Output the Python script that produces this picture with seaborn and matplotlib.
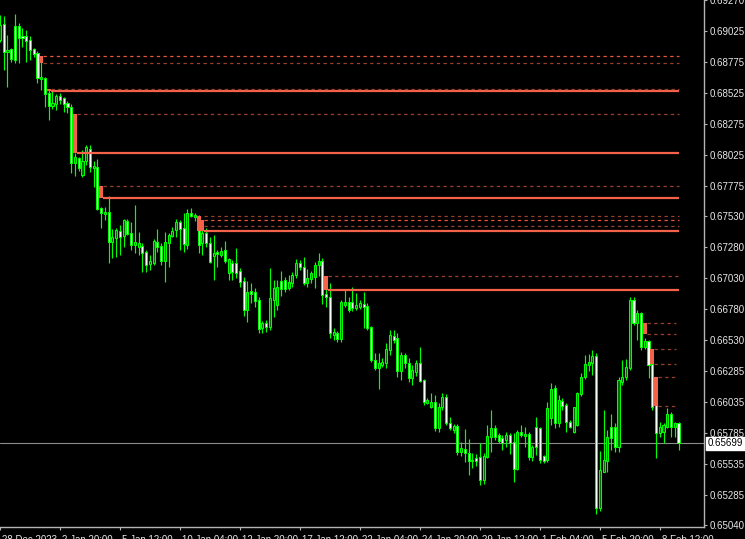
import numpy as np
import pandas as pd
import matplotlib
matplotlib.use("Agg")
import matplotlib.pyplot as plt
import matplotlib.transforms as mtransforms
from matplotlib.patches import Rectangle
import seaborn as sns

# ---------------- data ----------------
open_ = [0.68950, 0.69079, 0.68853, 0.68877, 0.69062, 0.69062, 0.68982, 0.68982, 0.68950, 0.68877,
         0.68845, 0.68635, 0.68643, 0.68522, 0.68418, 0.68434, 0.68498, 0.68482, 0.68442, 0.68410,
         0.67958, 0.67999, 0.67861, 0.67974, 0.68071, 0.67918, 0.67926, 0.67596, 0.67547, 0.67563,
         0.67321, 0.67354, 0.67410, 0.67370, 0.67491, 0.67394, 0.67297, 0.67281, 0.67289, 0.67241,
         0.67144, 0.67152, 0.67321, 0.67289, 0.67168, 0.67313, 0.67370, 0.67418, 0.67483, 0.67434,
         0.67297, 0.67555, 0.67523, 0.67523, 0.67313, 0.67394, 0.67313, 0.67209, 0.67241, 0.67217,
         0.67257, 0.67072, 0.67152, 0.67152, 0.67088, 0.67007, 0.66773, 0.66926, 0.66918, 0.66854,
         0.66628, 0.66669, 0.66636, 0.66854, 0.66814, 0.67007, 0.67015, 0.66951, 0.66991, 0.67055,
         0.67152, 0.67120, 0.66991, 0.67023, 0.67039, 0.67136, 0.67168, 0.66902, 0.66878, 0.66572,
         0.66588, 0.66540, 0.66814, 0.66838, 0.66838, 0.66789, 0.66798, 0.66822, 0.66806, 0.66636,
         0.66370, 0.66306, 0.66330, 0.66346, 0.66451, 0.66564, 0.66548, 0.66282, 0.66411, 0.66346,
         0.66225, 0.66274, 0.66346, 0.66209, 0.66024, 0.65992, 0.66032, 0.65822, 0.65992, 0.66072,
         0.65863, 0.65806, 0.65838, 0.65629, 0.65653, 0.65621, 0.65556, 0.65581, 0.65589, 0.65403,
         0.65589, 0.65750, 0.65822, 0.65766, 0.65742, 0.65726, 0.65766, 0.65709, 0.65492, 0.65790,
         0.65758, 0.65774, 0.65589, 0.65830, 0.65822, 0.65597, 0.65564, 0.65903, 0.66145, 0.65863,
         0.66040, 0.66008, 0.65871, 0.65790, 0.65846, 0.66096, 0.66233, 0.66330, 0.66346, 0.66403,
         0.65178, 0.65468, 0.65556, 0.65830, 0.65830, 0.65669, 0.66193, 0.66233, 0.66306, 0.66854,
         0.66669, 0.66749, 0.66475, 0.66524, 0.66338, 0.66008, 0.65782, 0.65790, 0.65830, 0.65935,
         0.65830, 0.65863]
high = [0.69151, 0.69143, 0.68990, 0.68885, 0.69159, 0.69087, 0.69046, 0.69030, 0.68982, 0.68885,
        0.68861, 0.68788, 0.68651, 0.68555, 0.68547, 0.68514, 0.68522, 0.68490, 0.68458, 0.68434,
        0.68039, 0.68007, 0.68063, 0.68103, 0.68103, 0.67974, 0.67990, 0.67604, 0.67604, 0.67692,
        0.67426, 0.67434, 0.67458, 0.67507, 0.67507, 0.67483, 0.67620, 0.67402, 0.67313, 0.67257,
        0.67217, 0.67346, 0.67426, 0.67313, 0.67402, 0.67394, 0.67442, 0.67507, 0.67499, 0.67555,
        0.67587, 0.67596, 0.67555, 0.67539, 0.67475, 0.67434, 0.67362, 0.67378, 0.67257, 0.67281,
        0.67330, 0.67192, 0.67176, 0.67273, 0.67112, 0.67039, 0.67007, 0.66991, 0.66951, 0.66878,
        0.66685, 0.66693, 0.67112, 0.67015, 0.67015, 0.67088, 0.67039, 0.67055, 0.67080, 0.67184,
        0.67176, 0.67200, 0.67104, 0.67088, 0.67160, 0.67233, 0.67192, 0.66991, 0.66991, 0.66628,
        0.66604, 0.66854, 0.66935, 0.66878, 0.66959, 0.66910, 0.66854, 0.66918, 0.66830, 0.66644,
        0.66427, 0.66427, 0.66386, 0.66507, 0.66612, 0.66612, 0.66588, 0.66435, 0.66427, 0.66386,
        0.66330, 0.66370, 0.66475, 0.66217, 0.66064, 0.66104, 0.66088, 0.66024, 0.66104, 0.66096,
        0.65911, 0.65854, 0.65854, 0.65709, 0.65814, 0.65734, 0.65621, 0.65613, 0.65701, 0.65621,
        0.65846, 0.65967, 0.65846, 0.65782, 0.65766, 0.65790, 0.65782, 0.65782, 0.65806, 0.65846,
        0.65830, 0.65790, 0.65685, 0.65911, 0.65830, 0.65605, 0.66032, 0.66185, 0.66169, 0.66088,
        0.66064, 0.66024, 0.65887, 0.65992, 0.66112, 0.66266, 0.66411, 0.66419, 0.66451, 0.66427,
        0.65637, 0.65967, 0.65806, 0.65935, 0.65863, 0.66233, 0.66370, 0.66378, 0.66878, 0.66878,
        0.66773, 0.66757, 0.66548, 0.66532, 0.66354, 0.66024, 0.65871, 0.65863, 0.65984, 0.65951,
        0.65871, 0.65871]
low = [0.68933, 0.68708, 0.68571, 0.68772, 0.68764, 0.68764, 0.68893, 0.68772, 0.68788, 0.68813,
       0.68603, 0.68547, 0.68410, 0.68305, 0.68393, 0.68385, 0.68434, 0.68369, 0.68361, 0.67878,
       0.67853, 0.67894, 0.67845, 0.67942, 0.67886, 0.67765, 0.67579, 0.67434, 0.67499, 0.67152,
       0.67192, 0.67200, 0.67217, 0.67281, 0.67378, 0.67257, 0.67233, 0.67217, 0.67080, 0.67080,
       0.67096, 0.67136, 0.67241, 0.67136, 0.66999, 0.67120, 0.67362, 0.67362, 0.67257, 0.67241,
       0.67265, 0.67523, 0.67491, 0.67233, 0.67217, 0.67281, 0.67152, 0.67015, 0.67120, 0.67200,
       0.67152, 0.67015, 0.67015, 0.67031, 0.66959, 0.66725, 0.66677, 0.66830, 0.66798, 0.66588,
       0.66588, 0.66596, 0.66612, 0.66717, 0.66773, 0.66886, 0.66918, 0.66935, 0.66959, 0.67031,
       0.67096, 0.66975, 0.66959, 0.66991, 0.66951, 0.67047, 0.66822, 0.66798, 0.66548, 0.66532,
       0.66515, 0.66515, 0.66798, 0.66757, 0.66765, 0.66773, 0.66781, 0.66628, 0.66612, 0.66354,
       0.66290, 0.66137, 0.66314, 0.66306, 0.66411, 0.66507, 0.66233, 0.66209, 0.66306, 0.66193,
       0.66169, 0.66241, 0.66193, 0.66008, 0.66016, 0.65984, 0.65798, 0.65790, 0.65967, 0.65846,
       0.65806, 0.65782, 0.65605, 0.65597, 0.65548, 0.65443, 0.65500, 0.65516, 0.65363, 0.65371,
       0.65581, 0.65629, 0.65726, 0.65701, 0.65645, 0.65669, 0.65613, 0.65387, 0.65484, 0.65750,
       0.65669, 0.65564, 0.65556, 0.65605, 0.65540, 0.65540, 0.65548, 0.65846, 0.65822, 0.65830,
       0.65967, 0.65790, 0.65822, 0.65782, 0.65838, 0.66080, 0.66217, 0.66282, 0.66249, 0.65129,
       0.65153, 0.65468, 0.65468, 0.65645, 0.65629, 0.65629, 0.66169, 0.66209, 0.66290, 0.66652,
       0.66532, 0.66451, 0.66459, 0.66225, 0.65967, 0.65581, 0.65750, 0.65701, 0.65822, 0.65750,
       0.65750, 0.65645]
close = [0.69070, 0.68853, 0.68869, 0.68796, 0.68788, 0.68966, 0.68966, 0.68942, 0.68869, 0.68837,
         0.68643, 0.68651, 0.68514, 0.68418, 0.68442, 0.68498, 0.68466, 0.68434, 0.68410, 0.67958,
         0.68007, 0.67918, 0.67974, 0.68087, 0.67926, 0.67934, 0.67587, 0.67555, 0.67563, 0.67321,
         0.67362, 0.67418, 0.67362, 0.67499, 0.67386, 0.67297, 0.67321, 0.67313, 0.67233, 0.67136,
         0.67168, 0.67330, 0.67281, 0.67168, 0.67321, 0.67378, 0.67410, 0.67483, 0.67426, 0.67305,
         0.67555, 0.67531, 0.67539, 0.67297, 0.67394, 0.67313, 0.67160, 0.67233, 0.67225, 0.67249,
         0.67168, 0.67184, 0.67080, 0.67072, 0.66999, 0.66773, 0.66918, 0.66902, 0.66846, 0.66620,
         0.66669, 0.66636, 0.66870, 0.66951, 0.66959, 0.66943, 0.66943, 0.66999, 0.67055, 0.67152,
         0.67120, 0.66991, 0.67031, 0.67072, 0.67136, 0.67168, 0.66894, 0.66878, 0.66588, 0.66596,
         0.66540, 0.66838, 0.66838, 0.66773, 0.66789, 0.66814, 0.66830, 0.66798, 0.66628, 0.66370,
         0.66306, 0.66346, 0.66354, 0.66459, 0.66572, 0.66532, 0.66282, 0.66411, 0.66346, 0.66225,
         0.66290, 0.66346, 0.66201, 0.66032, 0.66048, 0.66032, 0.65822, 0.65992, 0.66072, 0.65863,
         0.65822, 0.65838, 0.65629, 0.65661, 0.65621, 0.65556, 0.65564, 0.65556, 0.65403, 0.65597,
         0.65758, 0.65822, 0.65750, 0.65717, 0.65701, 0.65766, 0.65701, 0.65492, 0.65790, 0.65766,
         0.65774, 0.65589, 0.65669, 0.65669, 0.65564, 0.65556, 0.65984, 0.66137, 0.65863, 0.66048,
         0.66000, 0.65871, 0.65830, 0.65992, 0.66104, 0.66233, 0.66338, 0.66354, 0.66403, 0.65178,
         0.65484, 0.65564, 0.65750, 0.65742, 0.65669, 0.66209, 0.66233, 0.66314, 0.66854, 0.66669,
         0.66749, 0.66475, 0.66524, 0.66330, 0.65992, 0.65782, 0.65830, 0.65846, 0.65935, 0.65830,
         0.65863, 0.65699]

current_price = 0.65699

# supply zones: candle slot of the marker box, top and bottom price of the box
zone_slot = [11, 13, 20, 27, 53, 54, 87, 172, 174, 175]
zone_top = [0.68821, 0.68552, 0.68357, 0.67775, 0.67533, 0.67496, 0.67051, 0.66666, 0.66457, 0.66231]
zone_bottom = [0.68768, 0.68535, 0.68041, 0.67676, 0.67410, 0.67410, 0.66935, 0.66577, 0.66338, 0.66000]

# zone boundary lines: price, first candle
solid_level = [0.68535, 0.68041, 0.67676, 0.67410, 0.66935]
solid_from = [13, 20, 27, 54, 87]
dash_level = [0.68821, 0.68768, 0.68552, 0.68357, 0.67775, 0.67533, 0.67496, 0.67450, 0.67051,
              0.66666, 0.66577, 0.66457, 0.66338, 0.66231, 0.66000]
dash_from = [11, 11, 13, 20, 27, 54, 54, 54, 87, 172, 172, 174, 174, 175, 175]
dash_bright = [True, False, False, False, False, False, True, False, False,
               False, False, False, False, False, False]
last_bar = 181

ytick_vals = [0.69270, 0.69025, 0.68775, 0.68525, 0.68275, 0.68025, 0.67775, 0.67530, 0.67280,
              0.67030, 0.66780, 0.66530, 0.66285, 0.66035, 0.65785, 0.65535, 0.65285, 0.65040]
ytick_labels = ["0.69270", "0.69025", "0.68775", "0.68525", "0.68275", "0.68025", "0.67775",
                "0.67530", "0.67280", "0.67030", "0.66780", "0.66530", "0.66285", "0.66035",
                "0.65785", "0.65535", "0.65285", "0.65040"]
xtick_bars = [0, 16, 32, 48, 64, 80, 96, 112, 128, 144, 160, 176]
xtick_labels = ["28 Dec 2023", "2 Jan 20:00", "5 Jan 12:00", "10 Jan 04:00", "12 Jan 20:00",
                "17 Jan 12:00", "22 Jan 04:00", "24 Jan 20:00", "29 Jan 12:00", "1 Feb 04:00",
                "5 Feb 20:00", "8 Feb 12:00"]

# ---------------- style ----------------
sns.set_theme(style="dark", rc={"axes.facecolor": "black", "figure.facecolor": "black",
                                "savefig.facecolor": "black"})
plt.rcParams["font.family"] = ["Liberation Sans", "DejaVu Sans"]
plt.rcParams["lines.scale_dashes"] = False

W, H = 745, 539
fig = plt.figure(figsize=(W / 100, H / 100), dpi=100)
ax = fig.add_axes([0, 12 / H, 704 / W, 527 / H])

df = pd.DataFrame({"open": open_, "high": high, "low": low, "close": close})
df["bar"] = np.arange(len(df))
df["bull"] = df["close"] >= df["open"]

LIME = "#00ff00"
# wicks
ax.vlines(df["bar"], df["low"], df["high"], color=LIME, lw=0.85, zorder=2)
# bodies
body_h = (df["close"] - df["open"]).abs().clip(lower=0.000015)
body_b = df[["open", "close"]].min(axis=1)
ax.bar(df["bar"], body_h, bottom=body_b, width=0.55,
       color=np.where(df["bull"], "#006a00", "white"), edgecolor=LIME, linewidth=0.75, zorder=3)

# current price line
ax.axhline(current_price, color="#8c8c8c", lw=0.8, zorder=1)

# zones
RED = "#f4624a"
for s, t, b in zip(zone_slot, zone_top, zone_bottom):
    ax.add_patch(Rectangle((s - 0.5, b), 1.0, t - b, facecolor=RED, edgecolor="none", zorder=5))
for lv, f in zip(solid_level, solid_from):
    ax.hlines(lv, f + 0.5, last_bar + 0.2, color=RED, lw=1.6, zorder=5)
for lv, f, br in zip(dash_level, dash_from, dash_bright):
    end = last_bar + 0.2 if f < 150 else last_bar - 0.6
    ax.hlines(lv, f + 0.5, end, color="#e8563c" if br else "#97402f", lw=0.9,
              linestyles=(0, (2.4, 2.4)), zorder=5)

# axes limits
ax.set_xlim(0.0667, 187.8)
ax.set_ylim(0.65024, 0.69272)

for sp in ["top", "left"]:
    ax.spines[sp].set_visible(False)
for sp in ["right", "bottom"]:
    ax.spines[sp].set_color("#b4b4b4")
    ax.spines[sp].set_linewidth(1.0)

ax.yaxis.tick_right()
ax.set_yticks(ytick_vals)
ax.set_yticklabels(ytick_labels)
ax.tick_params(axis="y", colors="#b4b4b4", labelcolor="#e6e6e6", length=2.4, width=0.8,
               pad=2, labelsize=7, right=True, left=False)
ax.set_xticks(xtick_bars)
ax.set_xticklabels(xtick_labels)
ax.tick_params(axis="x", colors="#b4b4b4", labelcolor="#e6e6e6", length=2.4, width=0.8,
               pad=3.5, labelsize=7, bottom=True)
off = mtransforms.ScaledTranslation(2 / 100, 0, fig.dpi_scale_trans)
for lbl in ax.get_xticklabels():
    lbl.set_ha("left")
    lbl.set_transform(lbl.get_transform() + off)
ax.grid(False)

# current price label
trans = mtransforms.blended_transform_factory(ax.transAxes, ax.transData)
ax.text(1.0, current_price, "0.65699",
        transform=trans + mtransforms.ScaledTranslation(4 / 100, 0, fig.dpi_scale_trans),
        ha="left", va="center", fontsize=7, color="black", clip_on=False, zorder=10,
        bbox=dict(boxstyle="square,pad=0.18", fc="white", ec="white"))

fig.savefig("out.png", dpi=100, facecolor="black")
